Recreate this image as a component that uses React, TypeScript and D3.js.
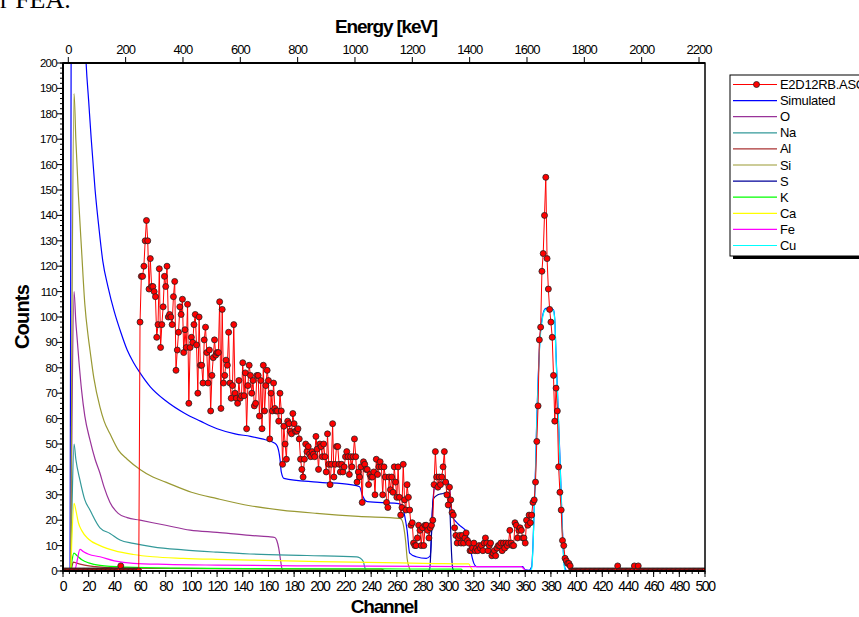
import React from 'react';
import * as d3 from 'd3';

const W = 859;
const H = 617;

// measured spectrum E2D12RB.ASC, one value per channel (channel 0 .. 500)
const countsLow = [
  0, 0, 0, 0, 0, 0, 0, 0, 0, 0, 0, 0, 0, 0, 0, 0, 0, 0, 0, 0,
  0, 0, 0, 0, 0, 0, 0, 0, 0, 0, 0, 0, 0, 0, 0, 0, 0, 0, 0, 0,
  0, 0, 0, 0, 0, 2, 0, 0, 0, 0, 0, 0, 0, 0, 0, 0, 0, 0, 0, 0,
];
// channels 60 .. 172
const countsA = [
  98, 116, 116, 120, 130, 138, 130, 111, 123, 112, 112, 110, 108, 92, 97, 119, 88, 97, 104, 116,
  112, 120, 100, 101, 100, 97, 108, 114, 79, 87, 94, 104, 101, 107, 86, 95, 88, 105, 66, 88,
  92, 90, 97, 101, 89, 70, 100, 81, 81, 74, 91, 96, 86, 74, 87, 63, 77, 84, 91, 85,
  86, 86, 106, 64, 103, 74, 77, 83, 81, 94, 74, 68, 73, 97, 70, 68, 66, 75, 68, 69,
  82, 69, 78, 56, 73, 81, 77, 70, 75, 65, 66, 77, 77, 61, 75, 56, 81, 63, 73, 79,
  75, 52, 70, 63, 74, 64, 63, 63, 59, 70, 63, 42, 57,
];
// channels 173 .. 300
const countsB = [
  50, 44, 59, 58, 55, 54, 62, 58, 55, 55, 56, 52, 44, 40, 37, 44, 50, 47, 49, 46,
  45, 47, 46, 45, 53, 48, 40, 50, 49, 45, 50, 45, 39, 54, 42, 34, 42, 58, 37, 42,
  49, 49, 42, 39, 42, 39, 41, 45, 47, 45, 38, 45, 41, 45, 52, 45, 35, 39, 37, 41,
  27, 43, 42, 40, 40, 34, 38, 37, 37, 39, 30, 44, 38, 41, 43, 41, 30, 41, 37, 27,
  25, 37, 32, 37, 31, 41, 35, 29, 41, 29, 22, 25, 42, 28, 24, 34, 29, 24, 18, 19,
  11, 10, 10, 13, 18, 16, 10, 17, 10, 18, 18, 16, 13, 17, 18, 20, 34, 47, 37, 33,
  37, 34, 37, 41, 47, 35, 30, 26,
];
// channels 301 .. 400
const countsC = [
  33, 28, 23, 22, 17, 14, 11, 13, 14, 11, 14, 11, 13, 15, 12, 11, 8, 8, 9, 11,
  8, 9, 8, 10, 9, 10, 8, 11, 13, 11, 8, 10, 11, 6, 7, 8, 6, 9, 10, 10,
  11, 8, 11, 9, 11, 10, 11, 16, 11, 10, 10, 19, 18, 13, 16, 17, 16, 13, 13, 11,
  20, 18, 22, 19, 22, 27, 28, 35, 51, 65, 91, 96, 118, 125, 140, 155, 123, 111, 103, 98,
  92, 77, 59, 72, 63, 41, 31, 24, 12, 10, 5, 4, 3, 3, 2, 0, 0, 0, 0, 0,
];
// channels 401 .. 500
const countsHigh = [
  0, 0, 0, 0, 0, 0, 0, 0, 0, 0, 0, 0, 0, 0, 0, 0, 0, 0, 0, 0,
  0, 0, 0, 0, 0, 0, 0, 0, 0, 0, 0, 2, 0, 0, 0, 0, 0, 0, 0, 0,
  0, 0, 0, 0, 2, 0, 0, 2, 0, 0, 0, 0, 0, 0, 0, 0, 0, 0, 0, 0,
  0, 0, 0, 0, 0, 0, 0, 0, 0, 0, 0, 0, 0, 0, 0, 0, 0, 0, 0, 0,
  0, 0, 0, 0, 0, 0, 0, 0, 0, 0, 0, 0, 0, 0, 0, 0, 0, 0, 0, 0,
];
const measured = [...countsLow, ...countsA, ...countsB, ...countsC, ...countsHigh];

// simulated spectrum and element contributions, [channel, counts]
const simulated: [number, number][] = [
  [0, 0], [5.5, 0], [6.5, 250], [9, 390], [12, 320], [15, 245], [18, 200], [20, 185], [22, 170],
  [25, 150], [28, 135], [31, 122], [35, 112], [40, 102], [45, 94], [50, 87], [55, 82], [60, 78],
  [68, 72.5], [80, 67], [95, 62], [107, 59], [120, 56], [134, 54], [146, 53], [155, 52], [165, 50.3],
  [167, 49], [169, 44], [170, 39], [172, 36.5], [198, 35], [224, 34], [231, 33.2], [233, 30],
  [235, 28], [237, 27.3], [260, 26.6], [264, 26], [266, 22], [268, 16], [270, 7], [275, 5.6],
  [283, 5], [286, 6], [287, 15], [288, 27], [290, 34], [296, 35], [299, 35.8], [301, 33], [302, 27],
  [303.5, 21.4], [306, 19.4], [310, 17.5], [314, 15.5], [317, 9], [320, 3], [322, 1.7], [340, 1.7],
  [358, 1.7], [360, 0.5], [363, 0.3], [365, 1.7], [366, 10], [367, 25], [368, 40], [369, 60],
  [370, 75], [371, 87], [372, 95], [373, 99], [374, 101.5], [376, 103.4], [379, 103.5], [382, 102.8],
  [383, 99], [384, 85], [385, 72], [386, 58], [387, 45], [388, 30], [389, 16], [390, 5], [391, 1],
  [393, 0], [500, 0],
];
const oxygen: [number, number][] = [
  [0, 0], [6, 0], [7, 60], [8.6, 110], [10, 98], [11.1, 91], [12.5, 82], [14.5, 71], [17, 61],
  [21, 51.6], [25, 44], [28.8, 38.5], [32, 33], [36.6, 27], [43, 22.7], [50, 21], [60, 20], [80, 18],
  [99, 16.1], [120, 15.2], [145.6, 14], [160, 13.5], [165, 13.2], [166.5, 12], [168, 9], [169.5, 4],
  [170.5, 1], [172, 0], [500, 0],
];
const sodium: [number, number][] = [
  [0, 0], [6, 0], [7, 25], [8.6, 50], [10, 44], [13.2, 35.8], [17, 28], [21, 24], [28.8, 17],
  [36.6, 14.8], [44.4, 12.2], [54.8, 10.9], [70, 9.5], [93.7, 8.3], [120, 7.4], [145.6, 6.7],
  [190, 6.1], [228.7, 5.6], [231, 5.2], [233.9, 3.7], [235, 1.5], [236, 0.4], [238, 0], [500, 0],
];
const aluminium: [number, number][] = [
  [0, 0], [6, 0], [8, 3.5], [10, 3.2], [15, 2.5], [25, 1.7], [40, 1.2], [80, 1], [150, 0.8],
  [248, 0.7], [251, 0], [500, 0],
];
const silicon: [number, number][] = [
  [0, 0], [6, 0], [7, 100], [8.6, 188], [10, 170], [12, 148], [14.5, 126], [17, 105], [19.7, 92],
  [21, 87], [24, 76], [28.8, 64.5], [32, 59], [36.6, 54], [43.1, 47.6], [50, 44], [60, 40], [70, 37],
  [80, 35], [100, 31], [120, 28.5], [145.6, 25.7], [170, 24], [197.6, 22.7], [230, 21.5],
  [262.5, 20.7], [264, 20], [265.5, 17], [267, 11], [268, 5], [269.5, 1.5], [271, 0], [500, 0],
];
const sulfur: [number, number][] = [
  [0, 0], [283, 0], [285.5, 0.5], [286.5, 8], [287.5, 22], [288.5, 28.5], [292, 30], [296, 30.5],
  [299, 31], [300.5, 30], [301.5, 22], [302.5, 8], [303.5, 1], [305, 0], [500, 0],
];
const potassium: [number, number][] = [
  [0, 0], [6, 0], [7, 4], [8.5, 7], [11, 6], [15, 4.3], [20, 3.2], [28.8, 2.2], [50, 1.5], [90, 1.1],
  [150, 0.9], [250, 0.8], [310, 0.7], [312, 0], [500, 0],
];
const calcium: [number, number][] = [
  [0, 0], [6, 0], [7, 14], [8.6, 26.6], [10, 24], [12, 19], [14.5, 16], [20, 12.5], [28.8, 10],
  [40, 8], [54.8, 6.5], [70, 5.6], [93.7, 5], [120, 4.6], [145.6, 4.3], [200, 3.7], [249.5, 3.3],
  [280, 3], [316, 2.8], [318, 1], [320, 0], [500, 0],
];
const iron: [number, number][] = [
  [0, 0], [9, 0], [11, 4], [13.2, 8.5], [16, 7.6], [20, 6.6], [28.8, 5.6], [40, 4], [54.8, 3],
  [80, 2.6], [120, 2.3], [200, 2], [280, 1.8], [357, 1.7], [359, 0.8], [361, 0], [500, 0],
];
const copper: [number, number][] = [
  [0, 0], [363, 0], [365, 1], [366, 9], [367, 24], [368, 39], [369, 59], [370, 74], [371, 86],
  [372, 94], [373, 98], [374, 101], [376, 103], [379, 103.3], [382, 102.5], [383, 98.5], [384, 84],
  [385, 71], [386, 57], [387, 44], [388, 29], [389, 15], [390, 4], [391, 0.5], [392, 0], [500, 0],
];

const legendNames = ['E2D12RB.ASC', 'Simulated', 'O', 'Na', 'Al', 'Si', 'S', 'K', 'Ca', 'Fe', 'Cu'];
const legendColors = ['#ff0000', '#0000ff', '#993399', '#339999', '#aa3333', '#999933', '#000099', '#00ff00', '#ffff00', '#ff00ff', '#00ffff'];
const elementSeries = [oxygen, sodium, aluminium, silicon, sulfur, potassium, calcium, iron, copper];

const yTicks = d3.range(0, 201, 10);
const yMinor = d3.range(0, 201, 2);
const xTicks = d3.range(0, 501, 20);
const xMinor = d3.range(0, 501, 5);
const energyTicks = d3.range(0, 2201, 200);

const font = '"Liberation Sans", Arial, sans-serif';

export default function App() {
  const left = 63, right = 705, top = 63, bottom = 571;
  const x = d3.scaleLinear().domain([0, 500]).range([left, right]);
  const y = d3.scaleLinear().domain([0, 200]).range([bottom, top]);
  const xe = d3.scaleLinear().domain([0, 2200]).range([68.3, 699]);

  const smooth = d3.line<[number, number]>().x((d) => x(d[0])).y((d) => y(d[1])).curve(d3.curveMonotoneX);
  const line = d3.line<[number, number]>().x((d) => x(d[0])).y((d) => y(d[1]));
  const measuredPts: [number, number][] = measured.map((c, i) => [i, c]);

  return (
    <div style={{ position: 'absolute', left: 0, top: 0 }}>
      <svg width={W} height={H} style={{ display: 'block', background: '#fff' }}>
        <defs>
          <clipPath id="plot">
            <rect x={left} y={top} width={right - left} height={bottom - top} />
          </clipPath>
        </defs>
        <text x={0} y={8} fontFamily='"Liberation Serif", "Times New Roman", serif' fontSize={26}>r FEA.</text>

        <g clipPath="url(#plot)">
          <path d={smooth(simulated) ?? ''} fill="none" stroke={legendColors[1]} strokeWidth={1.2} />
          {elementSeries.map((s, i) => (
            <path key={i} d={smooth(s) ?? ''} fill="none" stroke={legendColors[i + 2]} strokeWidth={1.2} />
          ))}
          <path d={line(measuredPts) ?? ''} fill="none" stroke="#ff0000" strokeWidth={1} />
          {measuredPts.map((d, i) => (
            <circle key={i} cx={x(d[0])} cy={y(d[1])} r={3} fill="#ff0000" stroke="#222" strokeWidth={0.8} />
          ))}
        </g>

        {/* frame */}
        <rect x={left} y={top} width={right - left} height={bottom - top} fill="none" stroke="#000" strokeWidth={1.5} />
        <line x1={left} x2={left} y1={top} y2={bottom + 1} stroke="#000" strokeWidth={2} />
        <line x1={left} x2={right} y1={top} y2={top} stroke="#000" strokeWidth={2} />
        <line x1={left} x2={right} y1={bottom} y2={bottom} stroke="#000" strokeWidth={2} />

        {/* left axis */}
        {yMinor.map((t) => (
          <line key={'ym' + t} x1={left - 3} x2={left} y1={y(t)} y2={y(t)} stroke="#000" strokeWidth={1} />
        ))}
        {yTicks.map((t) => (
          <g key={'y' + t}>
            <line x1={left - 6} x2={left} y1={y(t)} y2={y(t)} stroke="#000" strokeWidth={1} />
            <text x={left - 6} y={y(t) + 4} textAnchor="end" fontFamily={font} fontSize={11.5} letterSpacing={-0.7}>{t}</text>
          </g>
        ))}

        {/* bottom axis */}
        {xMinor.map((t) => (
          <line key={'xm' + t} x1={x(t)} x2={x(t)} y1={bottom} y2={bottom + 3} stroke="#000" strokeWidth={1} />
        ))}
        {xTicks.map((t) => (
          <g key={'x' + t}>
            <line x1={x(t)} x2={x(t)} y1={bottom} y2={bottom + 6} stroke="#000" strokeWidth={1} />
            <text x={x(t)} y={591} textAnchor="middle" fontFamily={font} fontSize={14} letterSpacing={-1.4}>{t}</text>
          </g>
        ))}

        {/* top energy axis */}
        {energyTicks.map((t) => (
          <g key={'e' + t}>
            <line x1={xe(t)} x2={xe(t)} y1={top} y2={top - 6} stroke="#000" strokeWidth={1} />
            <text x={xe(t)} y={top - 9} textAnchor="middle" fontFamily={font} fontSize={13} letterSpacing={-1}>{t}</text>
          </g>
        ))}

        <text x={386} y={33} textAnchor="middle" fontFamily={font} fontSize={19} fontWeight="bold" letterSpacing={-1.2}>Energy [keV]</text>
        <text x={384} y={613} textAnchor="middle" fontFamily={font} fontSize={19} fontWeight="bold" letterSpacing={-1.2}>Channel</text>
        <text transform={`translate(29,317) rotate(-90)`} textAnchor="middle" fontFamily={font} fontSize={20} fontWeight="bold" letterSpacing={-0.8}>Counts</text>

        {/* legend */}
        <rect x={733} y={78} width={140} height={181} fill="#000" />
        <rect x={730} y={75} width={140} height={181} fill="#fff" stroke="#000" strokeWidth={1} />
        {legendNames.map((n, i) => {
          const ly = 84.5 + i * 16.1;
          return (
            <g key={n}>
              <line x1={733} x2={777} y1={ly} y2={ly} stroke={legendColors[i]} strokeWidth={1.2} />
              {i === 0 && <circle cx={756.5} cy={ly} r={3} fill="#ff0000" stroke="#222" strokeWidth={0.8} />}
              <text x={780} y={ly + 4.5} fontFamily={font} fontSize={13} letterSpacing={-0.3}>{n}</text>
            </g>
          );
        })}
      </svg>
    </div>
  );
}
